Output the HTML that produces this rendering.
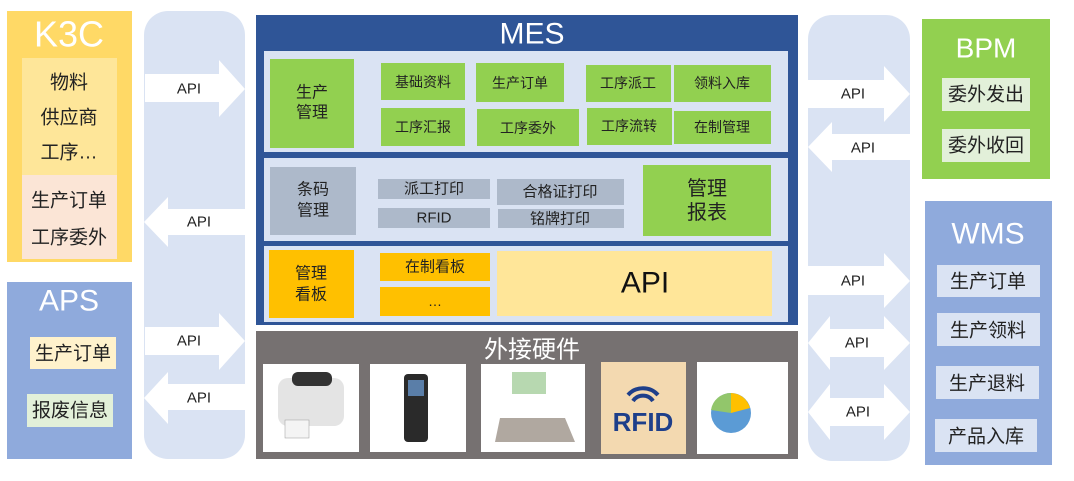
<!DOCTYPE html>
<html><head><meta charset="utf-8"><style>
html,body{margin:0;padding:0;background:#fff;}
svg{display:block;}
text{font-family:"Liberation Sans","Noto Sans CJK SC",sans-serif;text-anchor:middle;dominant-baseline:central;}
</style></head><body>
<svg width="1074" height="481" viewBox="0 0 1074 481" xmlns="http://www.w3.org/2000/svg">
<rect width="1074" height="481" fill="#fff"/>
<!-- K3C -->
<rect x="7" y="11" width="125" height="251" fill="#ffd966"/>
<text x="69" y="34" font-size="36" fill="#fff">K3C</text>
<rect x="22" y="58" width="95" height="117" fill="#fee699"/>
<rect x="22" y="175" width="95" height="84" fill="#fbe5d6"/>
<text x="69" y="83" font-size="19" fill="#222">物料</text>
<text x="69" y="118" font-size="19" fill="#222">供应商</text>
<text x="69" y="153" font-size="19" fill="#222">工序…</text>
<text x="69" y="201" font-size="19" fill="#222">生产订单</text>
<text x="69" y="238" font-size="19" fill="#222">工序委外</text>
<!-- APS -->
<rect x="7" y="282" width="125" height="177" fill="#8faadc"/>
<text x="69" y="301" font-size="30" fill="#fff">APS</text>
<rect x="30" y="337" width="86" height="32" fill="#fff2cc"/>
<text x="73" y="354" font-size="19" fill="#222">生产订单</text>
<rect x="27" y="394" width="86" height="33" fill="#e2f0d9"/>
<text x="70" y="411" font-size="19" fill="#222">报废信息</text>
<!-- left band -->
<rect x="144" y="11" width="101" height="448" rx="24" fill="#dae3f3"/>
<polygon points="145,74 219,74 219,60 245,89 219,117 219,102 145,102" fill="#fff"/>
<text x="189" y="89" font-size="15" fill="#222">API</text>
<polygon points="245,209 168,209 168,197 144,222 168,247 168,235 245,235" fill="#fff"/>
<text x="199" y="222" font-size="15" fill="#222">API</text>
<polygon points="145,327 219,327 219,313 245,341 219,370 219,355 145,355" fill="#fff"/>
<text x="189" y="341" font-size="15" fill="#222">API</text>
<polygon points="245,384 168,384 168,372 144,398 168,424 168,410 245,410" fill="#fff"/>
<text x="199" y="398" font-size="15" fill="#222">API</text>
<!-- MES -->
<rect x="256" y="15" width="542" height="310" fill="#2f5597"/>
<text x="532" y="34" font-size="30" fill="#fff">MES</text>
<rect x="264" y="51" width="524" height="101" fill="#dae3f3"/>
<rect x="270" y="59" width="84" height="89" fill="#92d050"/>
<text x="312" y="93" font-size="16" fill="#222">生产</text>
<text x="312" y="113" font-size="16" fill="#222">管理</text>
<g font-size="14" fill="#222">
<rect x="381" y="63" width="84" height="37" fill="#92d050"/><text x="423" y="82">基础资料</text>
<rect x="476" y="63" width="88" height="39" fill="#92d050"/><text x="520" y="83">生产订单</text>
<rect x="586" y="65" width="85" height="37" fill="#92d050"/><text x="628" y="83">工序派工</text>
<rect x="674" y="65" width="97" height="37" fill="#92d050"/><text x="722" y="83">领料入库</text>
<rect x="381" y="108" width="84" height="38" fill="#92d050"/><text x="423" y="127">工序汇报</text>
<rect x="477" y="109" width="102" height="37" fill="#92d050"/><text x="528" y="128">工序委外</text>
<rect x="587" y="108" width="85" height="37" fill="#92d050"/><text x="629" y="126">工序流转</text>
<rect x="674" y="111" width="97" height="33" fill="#92d050"/><text x="722" y="127">在制管理</text>
</g>
<rect x="264" y="158" width="524" height="83" fill="#dae3f3"/>
<rect x="270" y="167" width="86" height="68" fill="#adb9ca"/>
<text x="313" y="190" font-size="16" fill="#222">条码</text>
<text x="313" y="211" font-size="16" fill="#222">管理</text>
<g font-size="15" fill="#222">
<rect x="378" y="179" width="112" height="20" fill="#adb9ca"/><text x="434" y="189">派工打印</text>
<rect x="378" y="208" width="112" height="20" fill="#adb9ca"/><text x="434" y="218">RFID</text>
<rect x="497" y="179" width="127" height="26" fill="#adb9ca"/><text x="560" y="192">合格证打印</text>
<rect x="498" y="209" width="126" height="19" fill="#adb9ca"/><text x="560" y="219">铭牌打印</text>
</g>
<rect x="643" y="165" width="128" height="71" fill="#92d050"/>
<text x="707" y="189" font-size="20" fill="#222">管理</text>
<text x="707" y="213" font-size="20" fill="#222">报表</text>
<rect x="264" y="246" width="524" height="76" fill="#dae3f3"/>
<rect x="269" y="250" width="85" height="68" fill="#ffc000"/>
<text x="311" y="274" font-size="16" fill="#222">管理</text>
<text x="311" y="295" font-size="16" fill="#222">看板</text>
<rect x="380" y="253" width="110" height="28" fill="#ffc000"/>
<text x="435" y="267" font-size="15" fill="#222">在制看板</text>
<rect x="380" y="287" width="110" height="29" fill="#ffc000"/>
<text x="435" y="301" font-size="14" fill="#222">…</text>
<rect x="497" y="251" width="275" height="65" fill="#ffe699"/>
<text x="645" y="283" font-size="30" fill="#111">API</text>
<!-- hardware -->
<rect x="256" y="331" width="542" height="128" fill="#767171"/>
<text x="532" y="350" font-size="24" fill="#fff">外接硬件</text>
<rect x="263" y="364" width="96" height="88" fill="#fff"/>
<rect x="278" y="378" width="66" height="48" rx="10" fill="#e4e4e4"/>
<rect x="292" y="372" width="40" height="14" rx="6" fill="#333"/>
<rect x="285" y="420" width="24" height="18" fill="#f4f4f4" stroke="#999" stroke-width="0.5"/>
<rect x="370" y="364" width="96" height="88" fill="#fff"/>
<rect x="404" y="374" width="24" height="68" rx="4" fill="#2a2a2a"/>
<rect x="408" y="380" width="16" height="16" fill="#5a7ea8"/>
<rect x="481" y="364" width="104" height="88" fill="#fff"/>
<polygon points="500,418 565,418 575,442 495,442" fill="#b0a8a0"/>
<rect x="512" y="372" width="34" height="22" fill="#b7d8b0"/>
<rect x="601" y="362" width="85" height="92" fill="#f3d9b0"/>
<text x="643" y="422" font-size="26" font-weight="bold" fill="#1e3f8a">RFID</text>
<path d="M628,395 a20,20 0 0 1 30,0 M633,401 a12,12 0 0 1 20,0" stroke="#1e3f8a" stroke-width="4" fill="none"/>
<rect x="697" y="362" width="91" height="92" fill="#fff"/>
<circle cx="731" cy="413" r="20" fill="#5b9bd5"/>
<path d="M731,413 L711,410 A20,20 0 0 1 731,393 Z" fill="#92c66b"/>
<path d="M731,413 L731,393 A20,20 0 0 1 750,408 Z" fill="#ffc000"/>
<!-- right band -->
<rect x="808" y="15" width="102" height="446" rx="24" fill="#dae3f3"/>
<polygon points="808,80 884,80 884,66 910,94 884,122 884,108 808,108" fill="#fff"/>
<text x="853" y="94" font-size="15" fill="#222">API</text>
<polygon points="910,134 832,134 832,122 808,147 832,172 832,160 910,160" fill="#fff"/>
<text x="863" y="148" font-size="15" fill="#222">API</text>
<polygon points="808,266 884,266 884,253 910,281 884,308 884,295 808,295" fill="#fff"/>
<text x="853" y="281" font-size="15" fill="#222">API</text>
<polygon points="808,343 830,316 830,329 884,329 884,316 910,343 884,370 884,357 830,357 830,370" fill="#fff"/>
<text x="857" y="343" font-size="15" fill="#222">API</text>
<polygon points="808,412 830,384 830,398 884,398 884,384 910,412 884,440 884,426 830,426 830,440" fill="#fff"/>
<text x="858" y="412" font-size="15" fill="#222">API</text>
<!-- BPM -->
<rect x="922" y="19" width="128" height="160" fill="#92d050"/>
<text x="986" y="48" font-size="28" fill="#fff">BPM</text>
<rect x="942" y="78" width="88" height="33" fill="#e2f0d9"/>
<text x="986" y="95" font-size="19" fill="#222">委外发出</text>
<rect x="942" y="129" width="88" height="33" fill="#e2f0d9"/>
<text x="986" y="146" font-size="19" fill="#222">委外收回</text>
<!-- WMS -->
<rect x="925" y="201" width="127" height="264" fill="#8faadc"/>
<text x="988" y="234" font-size="30" fill="#fff">WMS</text>
<rect x="937" y="265" width="103" height="32" fill="#dae3f3"/><text x="988" y="282" font-size="19" fill="#222">生产订单</text>
<rect x="937" y="313" width="103" height="33" fill="#dae3f3"/><text x="988" y="331" font-size="19" fill="#222">生产领料</text>
<rect x="936" y="366" width="103" height="33" fill="#dae3f3"/><text x="987" y="384" font-size="19" fill="#222">生产退料</text>
<rect x="935" y="419" width="102" height="33" fill="#dae3f3"/><text x="986" y="437" font-size="19" fill="#222">产品入库</text>
</svg>
</body></html>
